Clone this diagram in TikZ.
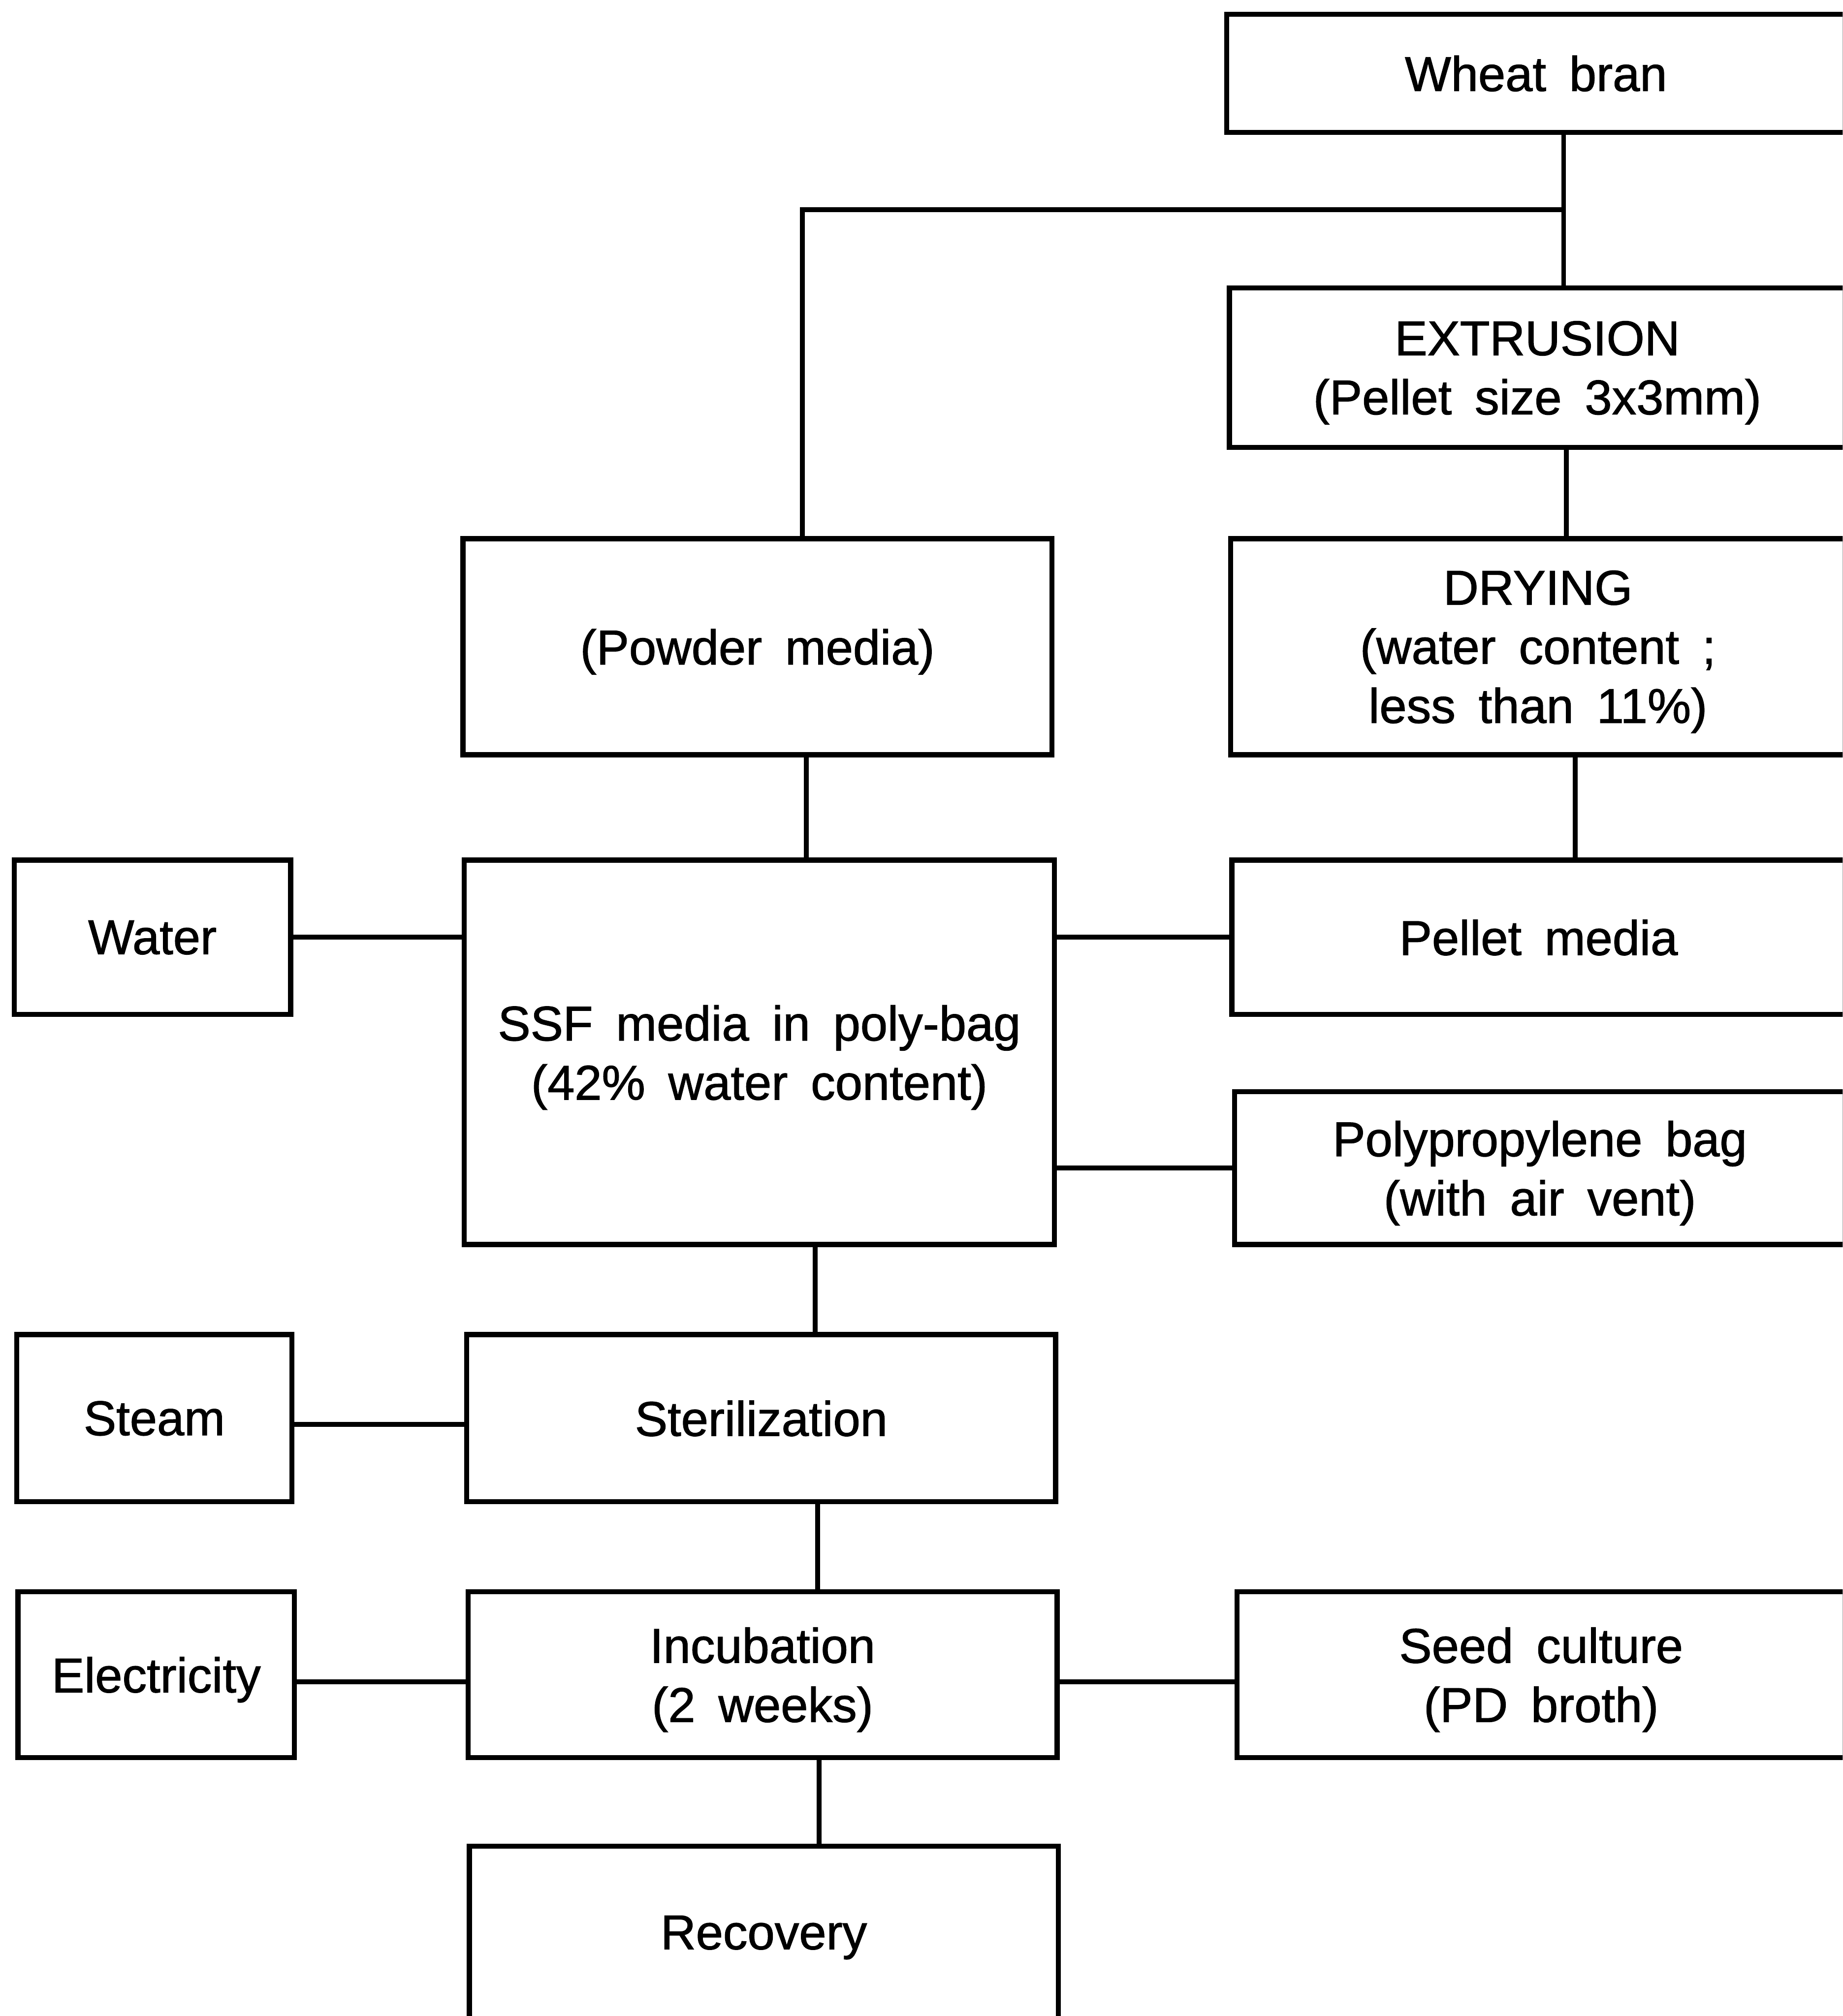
\documentclass[tikz,border=0pt]{standalone}
\usepackage{fontspec}
\setmainfont{Liberation Sans}[WordSpace=1.7,FakeBold=1.2]
\begin{document}
\begin{tikzpicture}[x=1pt,y=-1pt,
  box/.style={draw, line width=4pt, inner sep=0pt, outer sep=0pt, align=center,
    text depth=0pt, font=\fontsize{38}{46}\selectfont},
  link/.style={line width=3.8pt}]
\useasboundingbox (0,0) rectangle (1433,1568);
\clip (0,0) rectangle (1433,1568);
% right column
\node[box, minimum width=481pt, minimum height=92pt]  (wb)   at (1194.5,57)   {Wheat bran};
\node[box, minimum width=479pt, minimum height=124pt] (ext)  at (1195.5,286)  {EXTRUSION\\(Pellet size 3x3mm)};
\node[box, minimum width=478pt, minimum height=168pt] (dry)  at (1196,503)    {DRYING\\(water content ;\\less than 11\%)};
\node[box, minimum width=477pt, minimum height=120pt] (pel)  at (1196.5,729)  {Pellet media};
\node[box, minimum width=475pt, minimum height=119pt] (pp)   at (1197.5,908.5){Polypropylene bag\\(with air vent)};
\node[box, minimum width=473pt, minimum height=129pt] (seed) at (1198.5,1302.5){Seed culture\\(PD broth)};
% middle column
\node[box, minimum width=458pt, minimum height=168pt] (pow)  at (589,503)     {(Powder media)};
\node[box, minimum width=459pt, minimum height=299pt] (ssf)  at (590.5,818.5) {SSF media in poly-bag\\(42\% water content)};
\node[box, minimum width=458pt, minimum height=130pt] (ster) at (592,1103)    {Sterilization};
\node[box, minimum width=458pt, minimum height=129pt] (inc)  at (593,1302.5)  {Incubation\\(2 weeks)};
\node[box, minimum width=458pt, minimum height=134pt] (rec)  at (594,1503)    {Recovery};
% left column
\node[box, minimum width=215pt, minimum height=120pt] (wat)  at (118.5,729)   {Water};
\node[box, minimum width=214pt, minimum height=130pt] (stm)  at (120,1103)    {Steam};
\node[box, minimum width=215pt, minimum height=129pt] (elec) at (121.5,1302.5){Electricity};
% connectors
\coordinate (br) at (1216,163);
\coordinate (bl) at (624,163);
\draw[link] (wb.south -| br) -- (ext.north -| br);
\draw[link] (br) -- (bl) -- (pow.north -| bl);
\draw[link] (ext.south -| 1218,0) -- (dry.north -| 1218,0);
\draw[link] (dry.south -| 1225,0) -- (pel.north -| 1225,0);
\draw[link] (pow.south -| 627,0) -- (ssf.north -| 627,0);
\draw[link] (wat.east) -- (ssf.west |- wat.east);
\draw[link] (ssf.east |- pel.west) -- (pel.west);
\draw[link] (ssf.east |- pp.west) -- (pp.west);
\draw[link] (ssf.south -| 634,0) -- (ster.north -| 634,0);
\draw[link] (stm.east |- 0,1108) -- (ster.west |- 0,1108);
\draw[link] (ster.south -| 636,0) -- (inc.north -| 636,0);
\draw[link] (elec.east |- 0,1308) -- (inc.west |- 0,1308);
\draw[link] (inc.east |- 0,1308) -- (seed.west |- 0,1308);
\draw[link] (inc.south -| 637,0) -- (rec.north -| 637,0);
\end{tikzpicture}
\end{document}
